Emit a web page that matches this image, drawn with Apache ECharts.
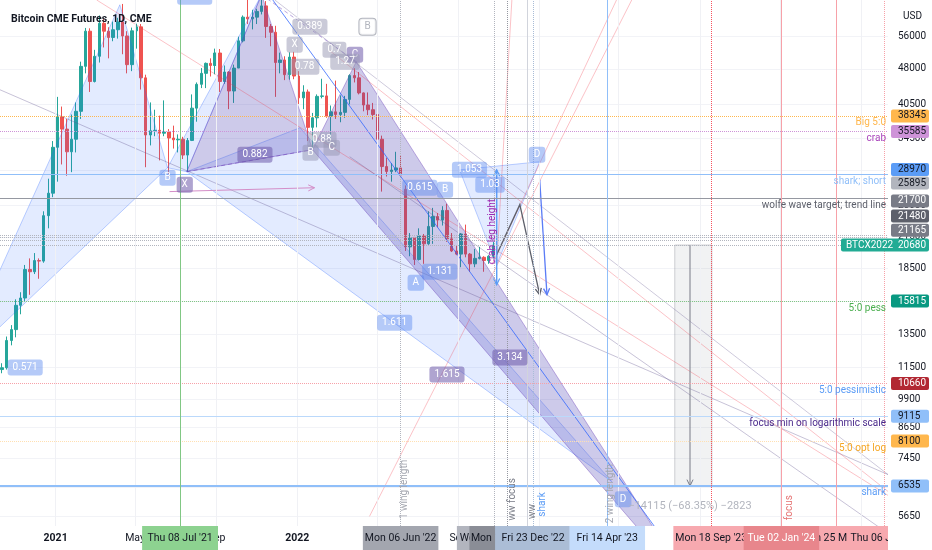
<!DOCTYPE html>
<html>
<head>
<meta charset="utf-8">
<script src="https://cdn.jsdelivr.net/npm/echarts@6/dist/echarts.min.js"></script>
<style>
html, body { margin: 0; padding: 0; background: #fff; }
#chart { width: 932px; height: 550px; }
</style>
</head>
<body>
<div id="chart"></div>
<script>
// weekly bars, [open, close, low, high]
const barDates = [
  '2020-10-12','2020-10-19','2020-10-26','2020-11-02','2020-11-09','2020-11-16','2020-11-23','2020-11-30','2020-12-07','2020-12-14','2020-12-21','2020-12-28',
  '2021-01-04','2021-01-11','2021-01-18','2021-01-25','2021-02-01','2021-02-08','2021-02-15','2021-02-22','2021-03-01','2021-03-08','2021-03-15','2021-03-22',
  '2021-03-29','2021-04-05','2021-04-12','2021-04-19','2021-04-26','2021-05-03','2021-05-10','2021-05-17','2021-05-24','2021-05-31','2021-06-07','2021-06-14',
  '2021-06-21','2021-06-28','2021-07-05','2021-07-12','2021-07-19','2021-07-26','2021-08-02','2021-08-09','2021-08-16','2021-08-23','2021-08-30','2021-09-06',
  '2021-09-13','2021-09-20','2021-09-27','2021-10-04','2021-10-11','2021-10-18','2021-10-25','2021-11-01','2021-11-08','2021-11-15','2021-11-22','2021-11-29',
  '2021-12-06','2021-12-13','2021-12-20','2021-12-27',
  '2022-01-03','2022-01-10','2022-01-17','2022-01-24','2022-01-31','2022-02-07','2022-02-14','2022-02-21','2022-02-28','2022-03-07','2022-03-14','2022-03-21',
  '2022-03-28','2022-04-04','2022-04-11','2022-04-18','2022-04-25','2022-05-02','2022-05-09','2022-05-16','2022-05-23','2022-05-30','2022-06-06','2022-06-13',
  '2022-06-20','2022-06-27','2022-07-04','2022-07-11','2022-07-18','2022-07-25','2022-08-01','2022-08-08','2022-08-15','2022-08-22','2022-08-29','2022-09-05',
  '2022-09-12','2022-09-19','2022-09-26','2022-10-03','2022-10-10','2022-10-17','2022-10-24'
];
const barOHLC = [
  [11400,11500,11200,11750],[11500,13100,11400,13350],[13100,13800,12800,14100],[13800,15500,13300,15950],
  [15500,16050,14850,16500],[16050,18400,15800,18800],[18400,18200,16300,19400],[18200,19200,18000,19900],
  [19200,19150,17600,19400],[19150,23800,19000,24300],[23800,26500,22400,28400],[26500,33000,26000,34000],
  [33000,38200,28000,42000],[38200,36000,30400,40100],[36000,32300,28800,37800],[32300,34300,29300,38600],
  [34300,39200,32200,40900],[39200,48600,37800,49700],[48600,57500,47000,58400],[57500,45200,43000,58300],
  [45200,51000,45000,52600],[51000,59700,49500,62000],[59700,57500,53200,60900],[57500,55800,50500,58600],
  [55800,57900,54800,60200],[57900,60100,55500,61300],[60100,56200,51500,65500],[56200,49000,47000,57500],
  [49000,57600,47500,58500],[57600,58700,52900,59600],[58700,46000,43500,59500],[46000,35000,30000,46700],
  [35000,35700,33300,40900],[35700,35800,34800,39500],[35800,35300,31000,38400],[35300,35500,34800,41300],
  [35500,34500,28700,36000],[34500,34200,32800,36600],[34200,34300,32200,35100],[34300,31800,31200,34700],
  [31800,34100,29400,34500],[34100,39800,34000,42500],[39800,44600,37300,45000],[44600,47000,43800,48200],
  [47000,49300,43800,49500],[49300,48800,46300,50500],[48800,51800,46800,52900],[51800,45200,43000,52800],
  [45200,47300,44700,48800],[47300,43200,39600,47500],[43200,48200,40800,49000],[48200,54900,48200,56000],
  [54900,61500,54500,62000],[61500,61000,59500,67000],[61000,61500,58000,63700],[61500,63200,59500,64000],
  [63200,64900,62300,69000],[64900,58800,55700,66400],[58800,57200,53500,59500],[57200,49500,42000,59000],
  [49500,50100,47000,51900],[50100,46700,45500,51000],[46700,50800,45600,52000],[50800,46400,45700,52100],
  [46400,41800,40600,47500],[41800,43000,39600,44400],[43000,36300,34000,43500],[36300,38000,32900,38900],
  [38000,42100,36300,42500],[42100,42200,41700,45800],[42200,38300,38000,44700],[38300,39100,34300,40300],
  [39100,38600,37800,45400],[38600,39000,37200,42300],[39000,41500,38000,42200],[41500,46500,40500,46800],
  [46500,46000,45000,48200],[46000,42800,42500,47300],[42800,40400,39200,42900],[40400,39500,38500,42900],
  [39500,38600,37700,40800],[38600,34300,33700,40000],[34300,30100,26700,34900],[30100,29400,28700,31400],
  [29400,29600,28000,30600],[29600,29900,29300,32300],[29900,28900,28700,31700],[27000,20500,20100,27500],
  [20500,21400,19600,21900],[21400,19300,18800,21500],[19300,21600,19200,22400],[21600,20800,18900,21800],
  [20800,22600,20700,24300],[22600,23700,20800,24700],[23700,23300,22500,24100],[23300,24400,22700,24900],
  [24400,21300,21000,25200],[21300,20100,20000,21900],[20100,19800,19700,20600],[19800,21800,18600,21900],
  [21800,19800,19500,22800],[19800,18900,18200,19900],[18900,19400,18600,20300],[19400,19500,19300,20500],
  [19500,19200,18200,19600],[19200,19600,18900,19700],[19600,20680,19400,21000]
];

const xMin = '2020-10-09';
const xMax = '2024-06-11';
const yMin = 5395;
const yMax = 66750;
const yTicks = [56000, 48000, 40500, 34500, 29500, 25000, 21500, 18500, 15800, 13500, 11500, 9900, 8650, 7450, 6500, 5650];
const xTicks = ['2021-01-01','2021-05-01','2021-09-01','2022-01-01','2022-05-01','2022-09-01','2023-01-01','2023-05-01','2023-09-01','2024-01-01','2024-05-01'];

// horizontal levels and their notes
const levelPrices = [38345, 35585, 28970, 25895, 21700, 21480, 21165, 20680, 15815, 10660, 9115, 8100, 6535];
const levelNames = ['Big 5:0', 'crab', 'shark; short', 'wolfe wave target; trend line', '', '', '', '', '5:0 pess', '5:0 pessimistic', 'focus min on logarithmic scale', '5:0 opt log', 'shark'];
const tagNames = ['', '', '', '', '', '', '', 'BTCX2022', '', '', '', '', ''];

// vertical markers
const vLineDates = ['2021-07-08','2022-06-06','2022-10-26','2022-11-14','2022-12-14','2022-12-23','2023-04-14','2023-09-18','2024-01-02','2024-03-25','2024-06-06'];
const badgeDates = ['2021-07-08','2022-06-06','2022-10-26','2022-11-14','2022-12-23','2023-04-14','2023-09-18','2024-03-25','2024-01-02','2024-06-06'];

// pattern triangles [date, price]
const bluePatterns = [
  [['2020-08-02', 11400], ['2021-04-08', 65250], ['2021-06-19', 29930]],
  [['2021-06-19', 29930], ['2021-11-08', 68450], ['2021-07-18', 29370]],
  [['2021-07-18', 29370], ['2022-01-05', 36240], ['2023-04-21', 6670]],
  [['2022-09-03', 29630], ['2023-01-02', 30800], ['2022-10-29', 18820]]
];
const purplePatterns = [
  [['2021-07-18', 29370], ['2021-11-08', 68450], ['2022-01-24', 32620]],
  [['2022-01-24', 32620], ['2022-03-31', 49700], ['2023-08-31', 3795]]
];

const guideLines = [
  [['2021-11-25', 66750], ['2023-07-02', 5206]],
  [['2021-03-04', 66750], ['2024-06-11', 6245]],
  [['2020-10-09', 43450], ['2024-06-11', 6900]],
  [['2022-02-19', 52380], ['2024-06-11', 6365]],
  [['2022-03-21', 31550], ['2024-06-11', 5206]],
  [['2022-04-20', 5650], ['2023-05-21', 66750]],
  [['2022-10-29', 18820], ['2022-11-21', 66750]],
  [['2021-11-28', 66750], ['2024-06-11', 6900]],
  [['2022-10-22', 18820], ['2023-04-28', 66750]],
  [['2021-07-18', 29370], ['2022-01-24', 32620]],
  [['2021-11-08', 68450], ['2022-03-31', 49700]]
];
const arrowPaths = [
  [['2022-10-29', 19750], ['2022-12-03', 25090], ['2023-01-02', 16310]],
  [['2023-01-02', 28250], ['2023-01-13', 16310]],
  [['2021-06-22', 26700], ['2022-01-27', 27200]],
  [['2023-08-17', 20680], ['2023-08-17', 6535]],
  [['2022-10-29', 17100], ['2022-10-29', 29630]],
  [['2022-10-29', 29630], ['2022-10-29', 17100]]
];
const rangeBox = [['2023-07-25', 20680], ['2023-09-19', 6535]];

const blueRatios = [
  ['2020-11-16', 11510, '0.571'], ['2021-06-19', 28540, 'B'], ['2022-07-05', 27200, '0.615'],
  ['2022-08-12', 26950, 'B'], ['2022-09-18', 29630, '1.053'], ['2022-10-19', 27600, '1.03'],
  ['2022-12-29', 31850, 'D'], ['2022-06-29', 17270, 'A'], ['2022-08-04', 18200, '1.131'],
  ['2022-05-28', 14260, '1.611'], ['2023-05-08', 6130, 'D'], ['2021-07-30', 67770, '0.618']
];
const purpleRatios = [
  ['2021-07-15', 27600, 'X'], ['2021-10-29', 31850, '0.882'], ['2022-03-29', 51370, 'C'],
  ['2022-08-15', 11130, '1.615'], ['2022-11-18', 12070, '3.134'], ['2021-10-05', 5150, '1.618']
];
const grayRatios = [
  ['2022-01-20', 58740, '0.389'], ['2021-12-28', 53900, 'X'], ['2022-01-12', 48520, '0.78'],
  ['2022-02-26', 52600, '0.7'], ['2022-03-14', 49700, '1.27'], ['2022-02-07', 34220, '0.88'],
  ['2022-01-21', 32150, 'B'], ['2022-02-22', 32930, 'C']
];
const outlineRatios = [['2022-04-17', 58740, 'B']];

const notes = [
  ['2022-10-22', 22050, 'crab leg height'],
  ['2022-06-12', 6425, '1 wing length'],
  ['2022-11-22', 6130, 'ww focus'],
  ['2022-12-22', 5785, 'ww'],
  ['2023-01-07', 5980, 'shark'],
  ['2023-04-19', 6300, '2 wing length'],
  ['2024-01-15', 5890, 'focus'],
  ['2023-08-17', 5920, '\u221214115 (\u221268.35%) \u22122823']
];

// ---- styles ----
const levelStyle = [
  { c: '#ffb74d', t: 'dotted', lc: '#ffb74d' },
  { c: '#ce93d8', t: 'dotted', lc: '#ab47bc' },
  { c: '#90bff9', t: 'solid', lc: '#90bff9' },
  { c: '#9598a1', t: 'solid', lc: '#5d606b' },
  { c: '#b2b5be', t: 'dotted' },
  { c: '#b2b5be', t: 'dotted' },
  { c: '#b2b5be', t: 'dotted' },
  { c: '#b2b5be', t: 'dotted' },
  { c: '#81c784', t: 'dotted', lc: '#4caf50' },
  { c: '#f7a1a8', t: 'dotted', lc: '#5b9cf6' },
  { c: '#bbd9fb', t: 'solid', lc: '#4a2a8c' },
  { c: '#ffe0b2', t: 'dotted', lc: '#f5a623' },
  { c: '#90bff9', t: 'solid', w: 2, lc: '#5b9cf6' }
];
const tagStyle = [
  { bg: '#ffb74d', fg: '#131722', dy: 0 },
  { bg: '#ce93d8', fg: '#131722', dy: 0 },
  { bg: '#5b9cf6', fg: '#131722', dy: -5 },
  { bg: '#b2b5be', fg: '#131722', dy: -15 },
  { bg: '#787b86', fg: '#ffffff', dy: -34 },
  { bg: '#5d606b', fg: '#ffffff', dy: -21 },
  { bg: '#787b86', fg: '#ffffff', dy: -10 },
  { bg: '#22ab94', fg: '#ffffff', dy: 0 },
  { bg: '#089981', fg: '#ffffff', dy: 0 },
  { bg: '#b22833', fg: '#ffffff', dy: 0 },
  { bg: '#90bff9', fg: '#131722', dy: 0 },
  { bg: '#ffb74d', fg: '#131722', dy: 0 },
  { bg: '#90bff9', fg: '#131722', dy: 0 }
];
const vLineStyle = [
  { c: '#81c784', t: 'solid' }, { c: '#b2b5be', t: 'dotted' }, { c: '#b2b5be', t: 'dotted' },
  { c: '#9598a1', t: 'dotted' }, { c: '#d1d4dc', t: 'solid' }, { c: '#a9bcd6', t: 'dotted' },
  { c: '#90bff9', t: 'solid' }, { c: '#f7525f', t: 'dotted' }, { c: '#f7a1a8', t: 'solid' },
  { c: '#f7a1a8', t: 'solid' }, { c: '#f7a1a8', t: 'dotted' }
];
const badgeStyle = [
  { bg: '#8dd290', fg: '#131722' }, { bg: '#a3a6af', fg: '#131722' }, { bg: '#b2b5be', fg: '#131722' },
  { bg: '#8a8d96', fg: '#131722' }, { bg: '#abbdd6', fg: '#131722' }, { bg: '#c4dcfb', fg: '#131722' },
  { bg: '#f7a9af', fg: '#131722' }, { bg: '#f7a9af', fg: '#131722' }, { bg: '#e8868c', fg: '#ffffff' },
  { bg: '#f7a9af', fg: '#131722' }
];
const guideStyle = [
  { c: 'rgba(41,98,255,0.75)' }, { c: 'rgba(242,54,69,0.3)' }, { c: 'rgba(94,80,140,0.35)' },
  { c: 'rgba(242,54,69,0.3)' }, { c: 'rgba(94,80,140,0.35)' }, { c: 'rgba(242,54,69,0.3)' },
  { c: 'rgba(242,54,69,0.3)' }, { c: 'rgba(94,80,140,0.3)' }, { c: 'rgba(242,54,69,0.3)' },
  { c: 'rgba(103,58,183,0.5)', dash: [4, 3] }, { c: 'rgba(103,58,183,0.45)', dash: [4, 3] }
];
const arrowStyle = [
  { c: '#5d606b', w: 1.3 }, { c: '#5b7cf6', w: 1.3 }, { c: '#d48ec8', w: 1 },
  { c: '#787b86', w: 1 }, { c: '#5b9cf6', w: 1.2 }, { c: '#5b9cf6', w: 1.2 }
];
const noteStyle = [
  { c: '#9c27b0', rot: true, f: 10 }, { c: '#a3a6af', rot: true, f: 10 }, { c: '#787b86', rot: true, f: 10 },
  { c: '#787b86', rot: true, f: 10 }, { c: '#5b9cf6', rot: true, f: 10 }, { c: '#a3a6af', rot: true, f: 10 },
  { c: '#e57373', rot: true, f: 10 }, { c: '#b2b5be', rot: false, f: 11 }
];

const FONT = 'Roboto, "Noto Sans", sans-serif';
const MON = ['Jan','Feb','Mar','Apr','May','Jun','Jul','Aug','Sep','Oct','Nov','Dec'];
const WD = ['Sun','Mon','Tue','Wed','Thu','Fri','Sat'];

const T = s => echarts.time.parse(s).getTime();
const xy = (api, p) => api.coord([T(p[0]), p[1]]);

function badgeText(s) {
  const d = echarts.time.parse(s);
  const dd = String(d.getDate()).padStart(2, '0');
  return WD[d.getDay()] + ' ' + dd + ' ' + MON[d.getMonth()] + " '" + String(d.getFullYear()).slice(2);
}

function arrowHead(a, b, size) {
  const ang = Math.atan2(b[1] - a[1], b[0] - a[0]);
  return [
    [b[0] - size * Math.cos(ang - 0.45), b[1] - size * Math.sin(ang - 0.45)],
    b,
    [b[0] - size * Math.cos(ang + 0.45), b[1] - size * Math.sin(ang + 0.45)]
  ];
}

function shapeSeries(shapes, fill, stroke) {
  return {
    type: 'custom', clip: true, silent: true, z: 3,
    data: shapes.map(s => [T(s[0][0]), s[0][1]]),
    renderItem: (params, api) => ({
      type: 'polygon',
      shape: { points: shapes[params.dataIndex].map(p => xy(api, p)) },
      style: { fill: fill, stroke: stroke, lineWidth: 1 }
    })
  };
}

function lineSeries(lines, styles, withHead) {
  return {
    type: 'custom', clip: true, silent: true, z: 4,
    data: lines.map(l => [T(l[0][0]), l[0][1]]),
    renderItem: (params, api) => {
      const st = styles[params.dataIndex];
      const pts = lines[params.dataIndex].map(p => xy(api, p));
      const kids = [{
        type: 'polyline', shape: { points: pts },
        style: { stroke: st.c, lineWidth: st.w || 1, lineDash: st.dash || null, fill: null }
      }];
      if (withHead) {
        kids.push({
          type: 'polyline', shape: { points: arrowHead(pts[pts.length - 2], pts[pts.length - 1], 7) },
          style: { stroke: st.c, lineWidth: st.w || 1, fill: null }
        });
      }
      return { type: 'group', children: kids };
    }
  };
}

function ratioSeries(list, bg, fg, border) {
  return {
    type: 'custom', clip: true, silent: true, z: 6,
    data: list.map(r => [T(r[0]), r[1]]),
    renderItem: (params, api) => {
      const r = list[params.dataIndex];
      const c = xy(api, r);
      return {
        type: 'text', x: c[0], y: c[1],
        style: {
          text: r[2], fill: fg, font: '10px ' + FONT, align: 'center', verticalAlign: 'middle',
          backgroundColor: bg, padding: [3, 5], borderRadius: 3,
          borderColor: border || null, borderWidth: border ? 1 : 0
        }
      };
    }
  };
}

const levelMarks = levelPrices.map((p, i) => ({
  yAxis: p,
  lineStyle: { color: levelStyle[i].c, type: levelStyle[i].t, width: levelStyle[i].w || 1 },
  label: {
    show: !!levelNames[i], position: 'insideEndBottom', distance: 2,
    formatter: levelNames[i], color: levelStyle[i].lc, fontSize: 10, fontFamily: FONT
  }
}));
const gridMarks = xTicks.map(d => ({
  xAxis: T(d), lineStyle: { color: '#f0f1f5', type: 'solid', width: 1 }, label: { show: false }
}));
const vMarks = vLineDates.map((d, i) => ({
  xAxis: T(d),
  lineStyle: { color: vLineStyle[i].c, type: vLineStyle[i].t, width: 1 },
  label: { show: false }
}));

const chart = echarts.init(document.getElementById('chart'));
chart.setOption({
  animation: false,
  backgroundColor: '#ffffff',
  title: [
    { text: 'Bitcoin CME Futures, 1D, CME', left: 6, top: 9,
      textStyle: { fontSize: 10.5, fontWeight: 'bold', color: '#131722', fontFamily: FONT } },
    { text: 'USD', left: 898, top: 6,
      textStyle: { fontSize: 10, fontWeight: 'normal', color: '#131722', fontFamily: FONT } }
  ],
  grid: { left: 0, right: 44, top: 0, bottom: 24 },
  xAxis: {
    type: 'time', min: T(xMin), max: T(xMax),
    axisLine: { show: false }, axisTick: { show: false },
    splitLine: { show: false }, axisLabel: { show: false }
  },
  yAxis: {
    type: 'log', logBase: 10, min: yMin, max: yMax, position: 'right',
    axisLine: { show: false }, axisTick: { show: false, customValues: yTicks },
    splitLine: { show: true, lineStyle: { color: '#f2f3f7' } },
    axisLabel: {
      customValues: yTicks, margin: 10, color: '#131722', fontSize: 10, fontFamily: FONT,
      formatter: v => String(Math.round(v))
    }
  },
  series: [
    {
      type: 'line', data: [], z: 1,
      markLine: {
        silent: true, symbol: ['none', 'none'], animation: false,
        label: { show: false },
        data: gridMarks.concat(levelMarks, vMarks)
      }
    },
    {
      type: 'candlestick', z: 2, barWidth: 3,
      data: barDates.map((d, i) => [T(d)].concat(barOHLC[i])),
      itemStyle: { color: '#26a69a', color0: '#ef5350', borderColor: '#26a69a', borderColor0: '#ef5350', borderWidth: 1 }
    },
    shapeSeries(bluePatterns, 'rgba(41,98,255,0.13)', 'rgba(41,98,255,0.3)'),
    shapeSeries(purplePatterns, 'rgba(76,66,180,0.28)', 'rgba(103,58,183,0.4)'),
    shapeSeries([[rangeBox[0], [rangeBox[1][0], rangeBox[0][1]], rangeBox[1], [rangeBox[0][0], rangeBox[1][1]]]],
      'rgba(120,123,134,0.1)', 'rgba(120,123,134,0.35)'),
    lineSeries(guideLines, guideStyle, false),
    lineSeries(arrowPaths, arrowStyle, true),
    ratioSeries(blueRatios, 'rgba(92,138,240,0.45)', '#ffffff'),
    ratioSeries(purpleRatios, 'rgba(110,90,170,0.55)', '#ffffff'),
    ratioSeries(grayRatios, 'rgba(150,150,178,0.5)', '#ffffff'),
    ratioSeries(outlineRatios, 'rgba(255,255,255,0.8)', '#b2b5be', '#b2b5be'),
    {
      type: 'custom', clip: true, silent: true, z: 6,
      data: notes.map(n => [T(n[0]), n[1]]),
      renderItem: (params, api) => {
        const n = notes[params.dataIndex];
        const st = noteStyle[params.dataIndex];
        const c = xy(api, n);
        return {
          type: 'text', x: c[0], y: c[1], rotation: st.rot ? Math.PI / 2 : 0,
          style: { text: n[2], fill: st.c, font: st.f + 'px ' + FONT, align: 'center', verticalAlign: 'middle' }
        };
      }
    },
    {
      // time scale labels
      type: 'custom', clip: false, silent: true, z: 9,
      data: xTicks.map(d => [T(d), yMin]),
      renderItem: (params, api) => {
        const d = echarts.time.parse(xTicks[params.dataIndex]);
        const x = api.coord([d.getTime(), yMin])[0];
        const isYear = d.getMonth() === 0;
        return {
          type: 'text', x: x, y: params.coordSys.y + params.coordSys.height + 12,
          style: {
            text: isYear ? String(d.getFullYear()) : MON[d.getMonth()],
            fill: '#131722', align: 'center', verticalAlign: 'middle',
            font: (isYear ? 'bold ' : '') + '10.5px ' + FONT
          }
        };
      }
    },
    {
      // price tags on the scale
      type: 'custom', clip: false, silent: true, z: 10,
      data: levelPrices.map(p => [T(xMax), p]),
      renderItem: (params, api) => {
        const i = params.dataIndex;
        const st = tagStyle[i];
        const cs = params.coordSys;
        const right = cs.x + cs.width;
        const y = api.coord([T(xMax), levelPrices[i]])[1] + st.dy;
        const x0 = tagNames[i] ? right - 47 : right + 3;
        const kids = [{
          type: 'rect', shape: { x: x0, y: y - 6.5, width: right + 41 - x0, height: 13, r: 2 },
          style: { fill: st.bg }
        }];
        if (tagNames[i]) {
          kids.push({ type: 'text', style: { text: tagNames[i], x: x0 + 5, y: y, fill: st.fg, font: '10px ' + FONT, verticalAlign: 'middle' } });
        }
        kids.push({ type: 'text', style: { text: String(levelPrices[i]), x: right + 10, y: y, fill: st.fg, font: '10px ' + FONT, verticalAlign: 'middle' } });
        return { type: 'group', children: kids };
      }
    },
    {
      // date badges on the time scale
      type: 'custom', clip: false, silent: true, z: 10,
      data: badgeDates.map(d => [T(d), yMin]),
      renderItem: (params, api) => {
        const i = params.dataIndex;
        const st = badgeStyle[i];
        const cs = params.coordSys;
        const x = api.coord([T(badgeDates[i]), yMin])[0];
        const y0 = cs.y + cs.height;
        const x0 = x - 38;
        const x1 = Math.min(x + 38, cs.x + cs.width);
        return {
          type: 'group',
          clipPath: { type: 'rect', shape: { x: x0, y: y0, width: x1 - x0, height: 24 } },
          children: [
            { type: 'rect', shape: { x: x0, y: y0, width: 76, height: 24 }, style: { fill: st.bg } },
            { type: 'text', style: { text: badgeText(badgeDates[i]), x: x, y: y0 + 12, align: 'center', verticalAlign: 'middle', fill: st.fg, font: '10.5px ' + FONT } }
          ]
        };
      }
    }
  ]
});
</script>
</body>
</html>
